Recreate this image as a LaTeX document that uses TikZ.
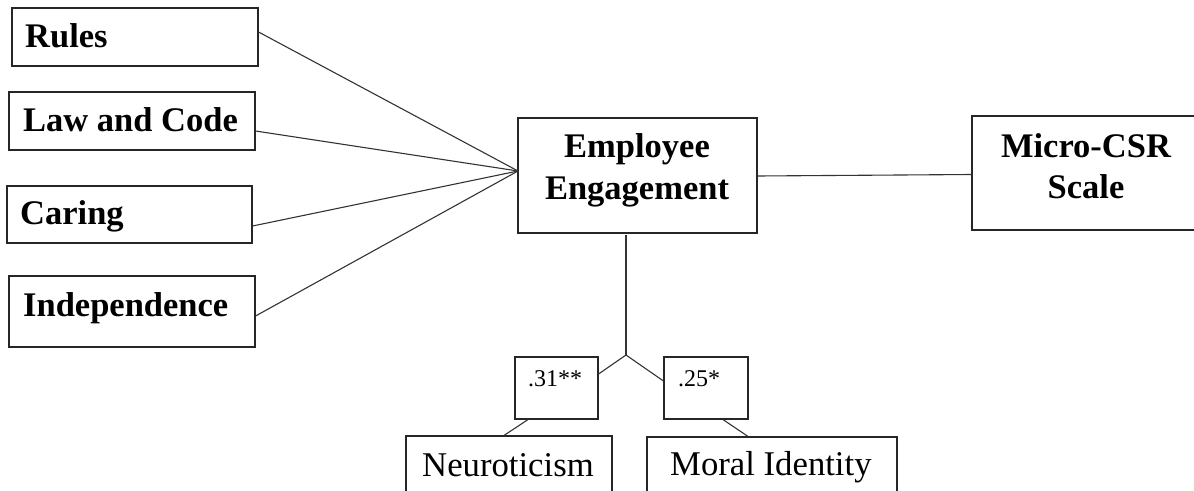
\documentclass[tikz,border=0pt]{standalone}
\usepackage{fontspec}
\setmainfont{Liberation Serif}
\begin{document}
\begin{tikzpicture}[x=1pt,y=-1pt,
  box/.style={draw=black!85,line width=1.1pt,inner sep=0pt,rectangle},
  conn/.style={draw=black!80,line width=1.1pt},
  bigb/.style={font=\fontsize{34.5}{42}\selectfont\bfseries,inner sep=0pt},
  bigr/.style={font=\fontsize{34.7}{42}\selectfont,inner sep=0pt},
  small/.style={font=\fontsize{24}{28}\selectfont,inner sep=0pt}]
\useasboundingbox (0,0) rectangle (1194,490);
\clip (0,0) rectangle (1194,490);
% boxes
\node[box,minimum width=246pt,minimum height=58pt] (rules) at (135,37) {};
\node[box,minimum width=246pt,minimum height=58pt] (law) at (132,121) {};
\node[box,minimum width=245pt,minimum height=57pt] (caring) at (129.5,214.5) {};
\node[box,minimum width=246pt,minimum height=71pt] (indep) at (132,311.5) {};
\node[box,minimum width=239pt,minimum height=115pt] (ee) at (637.5,175.5) {};
\node[box,minimum width=238pt,minimum height=114pt] (csr) at (1091,173) {};
\node[box,minimum width=83pt,minimum height=62pt] (c1) at (556.5,388) {};
\node[box,minimum width=84pt,minimum height=62pt] (c2) at (706,388) {};
\node[box,minimum width=206pt,minimum height=64pt] (neuro) at (509,468) {};
\node[box,minimum width=250pt,minimum height=63pt] (moral) at (772,468.5) {};
% texts
\node[bigb,anchor=base west] (rulesT) at (25,47) {Rules};
\node[bigb,anchor=base west] (lawT) at (23,131) {Law and Code};
\node[bigb,anchor=base west] (caringT) at (20,224) {Caring};
\node[bigb,anchor=base west] (indepT) at (23,316) {Independence};
\node[bigb,anchor=base] (eeT1) at (637,157) {Employee};
\node[bigb,anchor=base] (eeT2) at (637,199) {Engagement};
\node[bigb,anchor=base] (csrT1) at (1086,157) {Micro-CSR};
\node[bigb,anchor=base] (csrT2) at (1086,198) {Scale};
\node[small,anchor=base west] (c1T) at (528,386) {.31**};
\node[small,anchor=base west] (c2T) at (678,386) {.25*};
\node[bigr,anchor=base west] (neuroT) at (422,476) {Neuroticism};
\node[bigr,anchor=base west] (moralT) at (670,475) {Moral Identity};
% connectors
\coordinate (eeL) at (518,171);
\draw[conn] ([yshift=5pt]rules.east) -- (eeL);
\draw[conn] ([yshift=-10pt]law.east) -- (eeL);
\draw[conn] ([yshift=-11.5pt]caring.east) -- (eeL);
\draw[conn] ([yshift=-4.5pt]indep.east) -- (eeL);
\draw[conn] ([yshift=-0.5pt]ee.east) -- ([yshift=-1.5pt]csr.west);
\coordinate (eeB) at (626,235);
\coordinate (junc) at (626,355);
\draw[conn] (eeB) -- (junc);
\draw[conn] (junc) -- ([yshift=14pt]c1.east);
\draw[conn] (junc) -- ([yshift=7pt]c2.west);
\draw[conn] ([xshift=-28.5pt]c1.south) -- ([xshift=-5pt]neuro.north);
\draw[conn] ([xshift=17pt]c2.south) -- ([xshift=-24pt]moral.north);
\end{tikzpicture}
\end{document}
